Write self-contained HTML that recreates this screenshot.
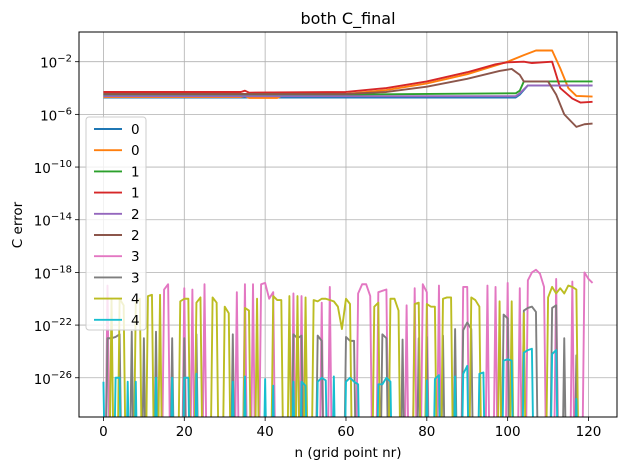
<!DOCTYPE html>
<html><head><meta charset="utf-8"><style>
html,body{margin:0;padding:0;background:#fff;width:630px;height:470px;overflow:hidden;}
svg{display:block;font-family:"DejaVu Sans","Liberation Sans",sans-serif;}
</style></head><body>
<svg id="chart" width="630" height="470" viewBox="0 0 630 470" xmlns="http://www.w3.org/2000/svg">
<defs><clipPath id="clip"><rect x="79" y="32" width="538" height="385"/></clipPath></defs>
<rect x="0" y="0" width="630" height="470" fill="#fff"/>
<g id="grid"></g>
<g id="series" clip-path="url(#clip)"></g>
<rect x="79" y="32" width="538" height="385" fill="none" stroke="#000" stroke-width="1"/>
<g id="ticks"></g>
<text x="348" y="24" font-size="16" text-anchor="middle">both C_final</text>
<text x="348" y="457" font-size="13.5" text-anchor="middle">n (grid point nr)</text>
<text x="22" y="225" font-size="13.5" text-anchor="middle" transform="rotate(-90 22 225)">C error</text>
<g id="legend"></g>
</svg>
<script>
// ---- data (log10 of C error) ----
const xTicks = [0, 20, 40, 60, 80, 100, 120];
const yTickExps = [-2, -6, -10, -14, -18, -22, -26];
const legendLabels = ["0","0","1","1","2","2","3","3","4","4"];
const colors = ["#1f77b4","#ff7f0e","#2ca02c","#d62728","#9467bd","#8c564b","#e377c2","#7f7f7f","#bcbd22","#17becf"];

const s0a = [[0,-4.72],[102,-4.72],[103,-4.5],[105,-3.8],[121,-3.8]];
const s0b = [[0,-4.68],[34,-4.68],[35,-4.6],[36,-4.75],[43,-4.75],[44,-4.6],[50,-4.6],[60,-4.45],[70,-4.15],[80,-3.65],[90,-2.95],[100,-2.0],[104,-1.5],[107,-1.15],[111,-1.15],[113,-2.5],[115,-4.0],[117,-4.6],[121,-4.65]];
const s1a = [[0,-4.55],[60,-4.5],[102,-4.4],[103,-4.2],[104,-3.5],[121,-3.5]];
const s1b = [[0,-4.3],[34,-4.3],[35,-4.2],[36,-4.35],[60,-4.3],[70,-4.0],[80,-3.5],[90,-2.8],[97,-2.2],[100,-2.05],[104,-2.0],[106,-2.1],[111,-2.0],[113,-4.0],[116,-4.8],[118,-5.1],[121,-5.05]];
const s2a = [[0,-4.62],[102,-4.62],[103,-4.4],[105,-3.8],[121,-3.8]];
const s2b = [[0,-4.45],[60,-4.45],[70,-4.3],[80,-3.9],[90,-3.3],[98,-2.7],[101,-2.55],[103,-3.0],[104,-3.5],[110,-3.5],[112,-4.5],[114,-6.0],[117,-6.95],[119,-6.75],[121,-6.7]];
const s3a = [[1,-19.0],[15,-19.3],[16,-18.9],[20,-19.2],[22,-19.3],[25,-18.9],[33,-19.5],[35,-18.9],[37,-18.9],[39,-18.9],[40,-18.8],[41,-20.0],[42,-19.5],[47,-19.6],[49,-19.8],[54,-20.3],[56,-19.1],[63,-19.6],[64,-18.9],[65,-18.9],[66,-19.8],[68,-19.5],[69,-19.4],[70,-19.3],[75,-20.5],[77,-19.2],[79,-18.9],[80,-19.5],[83,-19.0],[89,-19.1],[90,-19.1],[95,-19.0],[97,-19.1],[100,-18.8],[103,-19.2],[105,-18.6],[106,-18.0],[107,-17.8],[108,-18.1],[109,-19.1],[112,-18.5],[116,-18.7],[119,-18.0],[120,-18.5],[121,-18.8]];
const s3b = [[1,-23.0],[2,-23.0],[3,-22.9],[4,-22.7],[7,-22.5],[10,-23.0],[13,-22.5],[17,-23.0],[20,-23.0],[23,-22.7],[32,-22.7],[47,-22.7],[48,-23.0],[49,-22.8],[53,-22.8],[54,-23.2],[60,-22.9],[61,-23.2],[62,-23.2],[69,-22.7],[70,-23.0],[74,-23.1],[78,-23.0],[80,-22.9],[84,-22.8],[87,-22.3],[89,-22.4],[90,-21.8],[91,-22.3],[99,-21.2],[100,-21.5],[104,-20.9],[105,-20.7],[106,-20.6],[107,-21.0],[111,-20.7],[112,-20.5],[114,-23.0],[117,-24.3]];
const s4a = [[2,-20.0],[4,-20.0],[5,-20.5],[8,-20.3],[9,-20.0],[11,-19.8],[12,-19.7],[14,-19.7],[19,-20.2],[20,-20.0],[21,-20.0],[23,-20.3],[24,-19.9],[27,-19.9],[28,-20.3],[30,-20.6],[31,-21.1],[35,-20.7],[36,-20.9],[38,-20.0],[42,-19.8],[43,-20.1],[44,-20.1],[46,-19.8],[48,-19.8],[50,-19.9],[52,-20.1],[53,-20.2],[54,-20.0],[55,-20.0],[56,-20.1],[57,-20.2],[58,-20.6],[59,-22.3],[60,-20.0],[61,-20.4],[67,-20.6],[68,-20.3],[71,-20.0],[72,-20.0],[73,-20.9],[77,-20.4],[78,-20.3],[80,-20.4],[81,-20.6],[82,-20.6],[84,-20.0],[85,-19.9],[86,-19.9],[91,-19.9],[92,-20.1],[93,-20.6],[98,-20.2],[101,-20.2],[104,-21.1],[110,-19.9],[111,-19.1],[112,-19.6],[113,-19.2],[114,-19.6],[115,-19.0],[116,-19.1],[117,-19.3]];
const s4b = [[0,-26.3],[3,-26.0],[4,-26.0],[6,-26.3],[8,-26.3],[13,-26.0],[17,-26.0],[20,-26.0],[21,-26.0],[23,-25.7],[32,-26.3],[35,-25.9],[40,-26.1],[42,-26.6],[47,-26.3],[49,-26.3],[50,-26.6],[53,-26.3],[54,-26.0],[55,-26.2],[57,-25.9],[60,-26.3],[61,-26.0],[62,-26.3],[63,-26.5],[68,-26.5],[69,-26.5],[70,-26.0],[71,-26.3],[80,-26.2],[82,-26.1],[83,-25.8],[87,-25.9],[89,-25.7],[90,-25.1],[93,-25.7],[94,-25.6],[99,-24.7],[100,-24.6],[101,-24.7],[104,-24.1],[105,-23.9],[106,-23.8],[111,-24.2],[112,-23.9],[117,-27.6]];
const tinyExp = -45;

const NS = "http://www.w3.org/2000/svg";
const L = 79, R = 617, T = 32, B = 417;
const xMin = -6.05, xMax = 127.05, yMin = -28.98, yMax = 0.255;
function xs(n){ return L + (n - xMin) / (xMax - xMin) * (R - L); }
function ys(e){ return B - (e - yMin) / (yMax - yMin) * (B - T); }
function mk(tag, attrs, parent){ const el = document.createElementNS(NS, tag); for (const k in attrs) el.setAttribute(k, attrs[k]); parent.appendChild(el); return el; }

const grid = document.getElementById('grid');
const ticks = document.getElementById('ticks');
xTicks.forEach(v => {
  const x = xs(v);
  const g = mk('line', {x1:x, x2:x, y1:T, y2:B, stroke:'#b0b0b0', 'stroke-width':0.8}, grid);
  
  
  const t = mk('line', {x1:x, x2:x, y1:B, y2:B+4, stroke:'#000', 'stroke-width':0.8}, ticks);
  
  
  const lb = mk('text', {x:x, y:B+19, 'font-size':13.5, 'text-anchor':'middle'}, ticks);
  lb.textContent = v;
  
  
});
yTickExps.forEach(e => {
  const y = ys(e);
  const g = mk('line', {x1:L, x2:R, y1:y, y2:y, stroke:'#b0b0b0', 'stroke-width':0.8}, grid);
  
  
  const t = mk('line', {x1:L-4, x2:L, y1:y, y2:y, stroke:'#000', 'stroke-width':0.8}, ticks);
  
  
  const lb = mk('text', {x:L-7, y:y+6, 'font-size':13.5, 'text-anchor':'end'}, ticks);
  
  
  const base = document.createElementNS(NS, 'tspan'); base.textContent = '10'; lb.appendChild(base);
  const sup = document.createElementNS(NS, 'tspan'); sup.setAttribute('dy', -6); sup.setAttribute('font-size', 10); sup.textContent = '\u2212' + Math.abs(e); lb.appendChild(sup);
});

const seriesG = document.getElementById('series');
const YCUT = B + 3;
function clippedPath(pts){
  // pts: [[px,py],...]; cut each segment at y = YCUT
  let d = '';
  let pen = false;
  for (let i = 0; i < pts.length - 1; i++){
    let [x1,y1] = pts[i], [x2,y2] = pts[i+1];
    if (y1 > YCUT && y2 > YCUT){ pen = false; continue; }
    let ax = x1, ay = y1, bx = x2, by = y2;
    if (y1 > YCUT){ const t = (YCUT - y1) / (y2 - y1); ax = x1 + t*(x2-x1); ay = YCUT; pen = false; }
    if (y2 > YCUT){ const t = (YCUT - y1) / (y2 - y1); bx = x1 + t*(x2-x1); by = YCUT; }
    if (!pen) d += 'M' + ax.toFixed(2) + ' ' + ay.toFixed(2);
    d += 'L' + bx.toFixed(2) + ' ' + by.toFixed(2);
    pen = (by < YCUT);
  }
  return d;
}
function knotPath(arr){ return clippedPath(arr.map(p => [xs(p[0]), ys(p[1])])); }
function sparsePath(arr){
  const full = new Array(122).fill(tinyExp);
  arr.forEach(p => { full[p[0]] = p[1]; });
  return clippedPath(full.map((v,i) => [xs(i), ys(v)]));
}
const allSeries = [s0a, s0b, s1a, s1b, s2a, s2b, s3a, s3b, s4a, s4b];
const names = ['series-0-a','series-0-b','series-1-a','series-1-b','series-2-a','series-2-b','series-3-a','series-3-b','series-4-a','series-4-b'];
allSeries.forEach((s, i) => {
  const d = i < 6 ? knotPath(s) : sparsePath(s);
  const p = mk('path', {d:d, fill:'none', stroke:colors[i], 'stroke-width':1.9, 'stroke-linejoin':'round'}, seriesG);
  
  
});

const leg = document.getElementById('legend');
const box = mk('rect', {x:86, y:117, width:60, height:213, rx:3, fill:'#fff', 'fill-opacity':0.8, stroke:'#ccc', 'stroke-width':1}, leg);


legendLabels.forEach((lab, i) => {
  const y = 129 + i * 21.2;
  const ln = mk('line', {x1:94, x2:122, y1:y, y2:y, stroke:colors[i], 'stroke-width':1.9}, leg);
  
  
  const t = mk('text', {x:131, y:y+5, 'font-size':13.5}, leg);
  t.textContent = lab;
  
  
});
</script>
</body></html>
